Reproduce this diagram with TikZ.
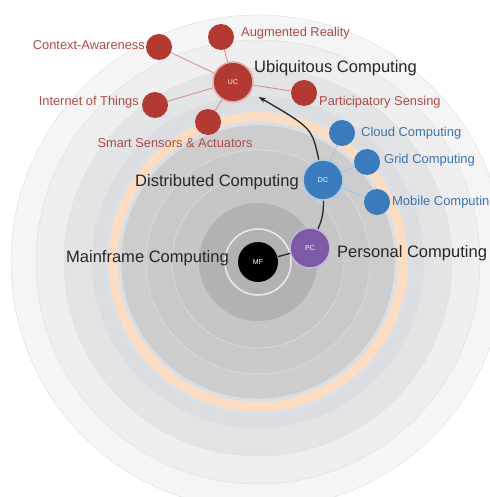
\documentclass[tikz,border=0pt]{standalone}
\usepackage{fontspec}
\setmainfont{Liberation Sans}
\usetikzlibrary{arrows.meta}
\definecolor{ucred}{HTML}{B23A33}
\definecolor{uctext}{HTML}{AE4A48}
\definecolor{dcblue}{HTML}{3A7BBE}
\definecolor{dctext}{HTML}{3C72B2}
\definecolor{pcpurple}{HTML}{7C5AA5}
\definecolor{orangering}{HTML}{FCDCC2}
\definecolor{bandA}{HTML}{F5F5F5}
\definecolor{bandB}{HTML}{EFEFF0}
\definecolor{bandC}{HTML}{E3E4E5}
\definecolor{bandD}{HTML}{DBDDE0}
\definecolor{bandE}{HTML}{D9DFE6}
\definecolor{bandF}{HTML}{CDCDCE}
\definecolor{bandG}{HTML}{C9C9CA}
\definecolor{bandH}{HTML}{C6C6C6}
\definecolor{bandI}{HTML}{B2B2B2}
\begin{document}
\begin{tikzpicture}[x=1bp,y=-1bp,
  band/.style={fill=#1, draw=black!12, line width=0.5bp},
  sat/.style={circle, minimum size=26bp, inner sep=0pt},
  redsat/.style={sat, fill=ucred},
  bluesat/.style={sat, fill=dcblue},
  hub/.style={circle, minimum size=40bp, inner sep=0pt, text=white,
    font=\fontsize{7}{8}\selectfont, line width=1.6bp},
  redlab/.style={text=uctext, font=\fontsize{12.9}{15}\selectfont, inner sep=0pt},
  bluelab/.style={text=dctext, font=\fontsize{13}{15}\selectfont, inner sep=0pt},
  biglab/.style={text=black!85, font=\fontsize{16.6}{19}\selectfont, inner sep=0pt},
  redlink/.style={draw=ucred!55, line width=0.9bp},
  bluelink/.style={draw=dcblue!45, line width=0.9bp},
  flow/.style={draw=black!85, line width=1.3bp}]
\useasboundingbox (0,0) rectangle (490,497);
\fill[white] (0,0) rectangle (490,497);
\begin{scope}
\clip (0,0) rectangle (490,497);
\coordinate (c) at (258,262);
\filldraw[band=bandA] (c) circle[radius=247bp];
\filldraw[band=bandB] (c) circle[radius=222bp];
\filldraw[band=bandC] (c) circle[radius=194bp];
\filldraw[band=bandD] (c) circle[radius=166bp];
\filldraw[fill=bandE, draw=none] (c) circle[radius=154bp];
\filldraw[fill=orangering, draw=none] (c) circle[radius=150bp];
\filldraw[fill=bandE, draw=none] (c) circle[radius=140bp];
\filldraw[band=bandF] (c) circle[radius=137bp];
\filldraw[band=bandG] (c) circle[radius=112bp];
\filldraw[band=bandH] (c) circle[radius=86bp];
\filldraw[fill=bandI, draw=none] (c) circle[radius=59bp];
\draw[white!92!black, line width=1.5bp] (c) circle[radius=33bp];
\end{scope}

% hubs
\node[hub, fill=black] (MF) at (258,262) {MF};
\node[hub, fill=pcpurple, draw=pcpurple!45] (PC) at (310,248) {PC};
\node[hub, fill=dcblue, draw=dcblue!40] (DC) at (323,180) {DC};
\node[hub, fill=ucred, draw=ucred!40] (UC) at (233,82) {UC};

% satellites (positions)
\coordinate (CA) at (159,47);
\coordinate (AR) at (221,37);
\coordinate (IoT) at (155,105);
\coordinate (SSA) at (208,122);
\coordinate (PS) at (304,93);
\coordinate (CC) at (342,133);
\coordinate (GC) at (367,162);
\coordinate (MC) at (377,202);

% links
\foreach \s in {CA,AR,IoT,SSA,PS} \draw[redlink] (UC) -- (\s);
\foreach \s in {CC,GC,MC} \draw[bluelink] (DC) -- (\s);
\node[redsat] (nCA) at (CA) {};
\node[redsat] (nAR) at (AR) {};
\node[redsat] (nIoT) at (IoT) {};
\node[redsat] (nSSA) at (SSA) {};
\node[redsat] (nPS) at (PS) {};
\node[bluesat] (nCC) at (CC) {};
\node[bluesat] (nGC) at (GC) {};
\node[bluesat] (nMC) at (MC) {};

% flow
\draw[flow] (MF) -- (PC);
\draw[flow] (PC) to[bend right=12] (DC);
\draw[flow, -{Stealth[length=7bp,width=5bp]}, shorten >=9bp] (DC) .. controls (312,128) .. (UC);

% labels
\node[redlab, anchor=east] (lCA) at (145,45) {Context-Awareness};
\node[redlab, anchor=west] (lAR) at (241,33) {Augmented Reality};
\node[biglab, anchor=west] (lUC) at (254,68) {Ubiquitous Computing};
\node[redlab, anchor=west] (lPS) at (319,102) {Participatory Sensing};
\node[redlab, anchor=east] (lIoT) at (139,102) {Internet of Things};
\node[redlab] (lSSA) at (175,143) {Smart Sensors \& Actuators};
\node[bluelab, anchor=west] (lCC) at (361,133) {Cloud Computing};
\node[bluelab, anchor=west] (lGC) at (384,160) {Grid Computing};
\node[bluelab, anchor=west] (lMC) at (392,202) {Mobile Computin};
\node[biglab, anchor=east] (lDC) at (299,182) {Distributed Computing};
\node[biglab, anchor=west] (lPC) at (337,253) {Personal Computing};
\node[biglab, anchor=east] (lMF) at (229,258) {Mainframe Computing};
\end{tikzpicture}
\end{document}
